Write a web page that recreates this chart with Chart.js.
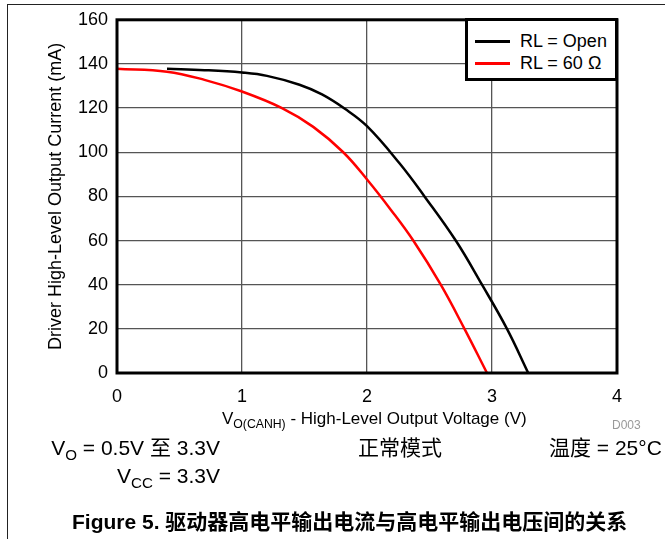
<!DOCTYPE html>
<html>
<head>
<meta charset="utf-8">
<script src="https://cdn.jsdelivr.net/npm/chart.js@4.4.1/dist/chart.umd.min.js"></script>
<style>
    body { margin: 0; background: #fff; font-family: "Liberation Sans", Arial, "Noto Sans CJK SC", sans-serif; }
    .page { position: relative; width: 665px; height: 539px; overflow: hidden; }
    .frame { position: absolute; left: 7px; top: 4px; right: -2px; bottom: -2px; border-left: 1px solid #222; border-top: 1px solid #222; }
    canvas { position: absolute; left: 0; top: 0; }
    .txt { position: absolute; white-space: nowrap; color: #000; line-height: 1; }
    .txt sub { font-size: 0.72em; vertical-align: -0.3em; line-height: 0; }
    .legend { position: absolute; left: 465px; top: 18px; width: 147px; height: 57px; border: 3px solid #000; background: #fff; }
    .legend .item { position: absolute; left: 7px; height: 18px; font-size: 18px; line-height: 18px; }
    .legend .swatch { position: absolute; left: 0; top: 8px; width: 35px; height: 3px; }
    .legend .label { position: absolute; left: 45px; top: 0; white-space: nowrap; }
    .cjk { font-family: "Liberation Sans", "Noto Sans CJK SC", sans-serif; }
</style>
</head>
<body>
<div class="page">
    <div class="frame"></div>
    <canvas id="ivChart" width="665" height="539"></canvas>
    <div class="legend" id="legend"></div>
    <div class="txt" style="left:222px; top:410px; font-size:17px;">V<sub>O(CANH)</sub> - High-Level Output Voltage (V)</div>
    <div class="txt" style="left:612px; top:419px; font-size:12px; color:#999;">D003</div>
    <div class="txt cjk" style="right:445px; top:437px; font-size:21px;">V<sub>O</sub> = 0.5V 至 3.3V</div>
    <div class="txt cjk" style="left:358px; top:437px; font-size:21px;">正常模式</div>
    <div class="txt cjk" style="left:549px; top:437px; font-size:21px;">温度 = 25°C</div>
    <div class="txt" style="right:445px; top:465px; font-size:21px;">V<sub>CC</sub> = 3.3V</div>
    <div class="txt cjk" style="left:72px; top:511px; font-size:21px; font-weight:bold;">Figure 5. 驱动器高电平输出电流与高电平输出电压间的关系</div>
</div>
<script>
// RL = Open
const voltsOpen = [0.4, 0.7, 1.0, 1.2, 1.46, 1.64, 1.82, 2.0, 2.26, 2.46, 2.71, 2.92, 3.12, 3.29];
const currentOpen = [137.8, 137.2, 136.1, 134.6, 130.6, 126.2, 119.8, 111.8, 95, 80, 60, 40, 20, 0];
// RL = 60 ohm
const volts60 = [0, 0.4, 0.7, 1.0, 1.32, 1.57, 1.81, 2.01, 2.19, 2.37, 2.59, 2.78, 2.96];
const current60 = [137.8, 136.5, 132.8, 127.5, 120, 111.5, 100, 87, 74, 60, 40, 20, 0];

const seriesNames = ['RL = Open', 'RL = 60 Ω'];
const seriesColors = ['#000000', '#ff0000'];

const xMin = 0, xMax = 4, xStep = 1;
const yMin = 0, yMax = 160, yStep = 20;

const toPoints = (xs, ys) => xs.map((x, i) => ({ x: x, y: ys[i] }));

const frame = {
    id: 'frame',
    afterDraw(chart) {
        const { ctx, chartArea: a } = chart;
        ctx.save();
        ctx.strokeStyle = '#000';
        ctx.lineWidth = 3;
        ctx.strokeRect(a.left, a.top, a.right - a.left, a.bottom - a.top);
        ctx.restore();
    }
};

const chart = new Chart(document.getElementById('ivChart'), {
    type: 'line',
    data: {
        datasets: [
            { label: seriesNames[0], data: toPoints(voltsOpen, currentOpen), borderColor: seriesColors[0] },
            { label: seriesNames[1], data: toPoints(volts60, current60), borderColor: seriesColors[1] }
        ].map(ds => Object.assign(ds, {
            borderWidth: 2.5,
            pointRadius: 0,
            fill: false,
            tension: 0.4
        }))
    },
    options: {
        responsive: false,
        animation: false,
        layout: { padding: { left: 0, top: 18, right: 48, bottom: 136 } },
        plugins: { legend: { display: false }, tooltip: { enabled: false } },
        scales: {
            x: {
                type: 'linear',
                min: xMin, max: xMax,
                ticks: { stepSize: xStep, color: '#000', padding: 13, font: { family: 'Liberation Sans', size: 18 } },
                grid: { color: '#555', lineWidth: 1.3, drawTicks: false },
                border: { display: false },
                afterFit: scale => { scale.height = 30; }
            },
            y: {
                min: yMin, max: yMax,
                ticks: { stepSize: yStep, color: '#000', padding: 9, font: { family: 'Liberation Sans', size: 18 } },
                grid: { color: '#555', lineWidth: 1.3, drawTicks: false },
                border: { display: false },
                title: {
                    display: true,
                    text: 'Driver High-Level Output Current (mA)',
                    color: '#000',
                    padding: { top: 45 },
                    font: { family: 'Liberation Sans', size: 18 }
                },
                afterFit: scale => { scale.width = 117; }
            }
        }
    },
    plugins: [frame]
});

// legend built from the datasets
const legendEl = document.getElementById('legend');
chart.data.datasets.forEach((ds, i) => {
    const item = document.createElement('div');
    item.className = 'item';
    item.style.top = (11 + i * 22) + 'px';
    item.innerHTML = `<span class="swatch" style="background:${ds.borderColor}"></span><span class="label">${ds.label}</span>`;
    legendEl.appendChild(item);
});
</script>
</body>
</html>
